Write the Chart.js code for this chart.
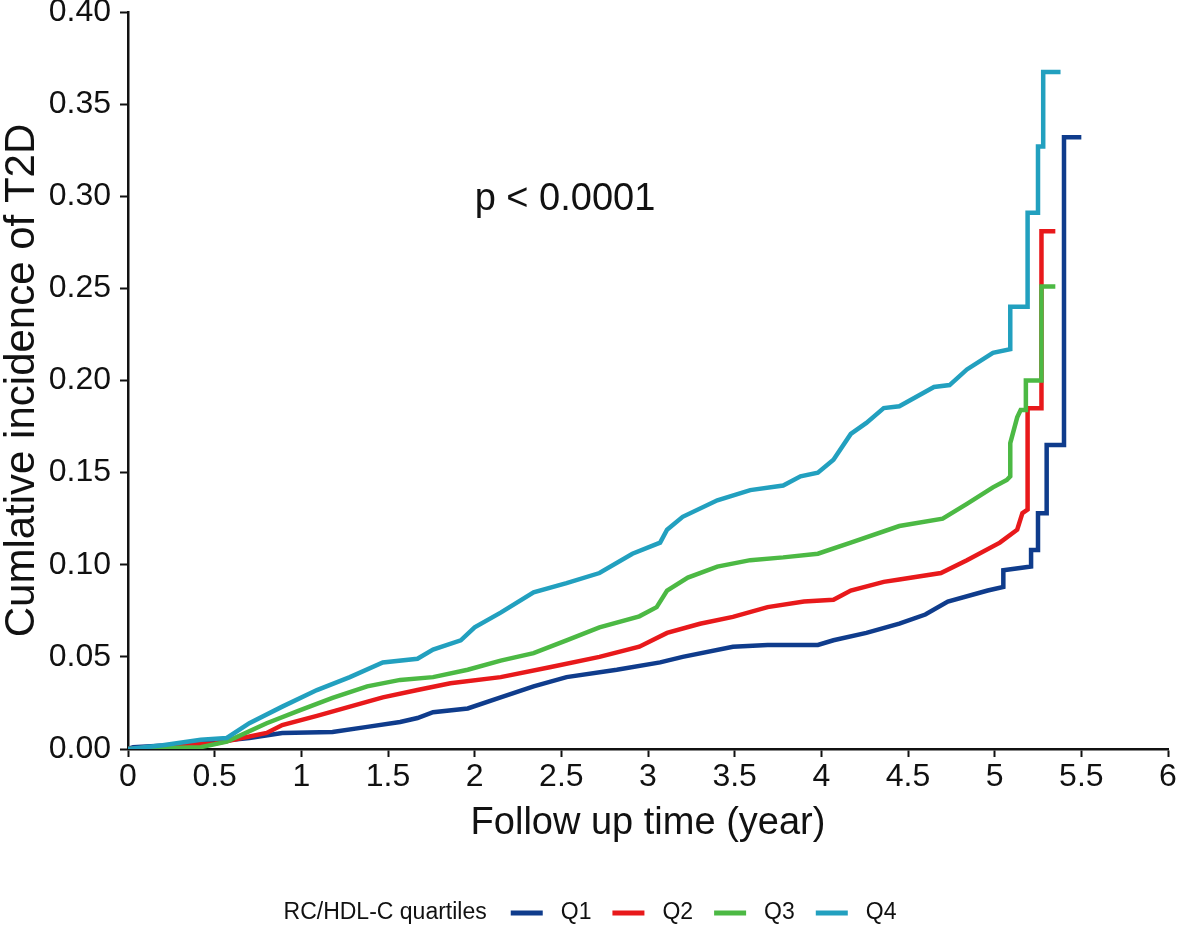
<!DOCTYPE html>
<html>
<head>
<meta charset="utf-8">
<script src="https://cdn.jsdelivr.net/npm/chart.js@4"></script>
<style>
  body { margin: 0; background: #fff; }
  #wrap { width: 1181px; height: 941px; }
</style>
</head>
<body>
<div id="wrap"><canvas id="km"></canvas></div>
<script>
// follow up time (year) and cumulative incidence
const q1Time = [0, 0.03, 0.42, 0.60, 0.70, 0.89, 1.18, 1.38, 1.57, 1.67, 1.76, 1.96, 2.15, 2.34, 2.53, 2.82, 3.07, 3.20, 3.49, 3.69, 3.98, 4.07, 4.26, 4.45, 4.60, 4.73, 4.96, 5.05, 5.05, 5.21, 5.21, 5.25, 5.25, 5.30, 5.30, 5.40, 5.40, 5.50];
const q1Inc  = [0, 0.001, 0.003, 0.005, 0.006, 0.0087, 0.0092, 0.012, 0.0147, 0.0168, 0.020, 0.022, 0.028, 0.034, 0.039, 0.043, 0.047, 0.050, 0.0555, 0.0565, 0.0565, 0.059, 0.063, 0.068, 0.073, 0.080, 0.086, 0.088, 0.097, 0.099, 0.108, 0.108, 0.128, 0.128, 0.165, 0.165, 0.332, 0.332];

const q2Time = [0, 0.30, 0.50, 0.61, 0.80, 0.89, 1.09, 1.28, 1.47, 1.67, 1.86, 2.15, 2.44, 2.72, 2.95, 3.11, 3.30, 3.49, 3.69, 3.90, 4.07, 4.17, 4.36, 4.45, 4.69, 4.84, 5.03, 5.13, 5.16, 5.19, 5.19, 5.27, 5.27, 5.35];
const q2Inc  = [0, 0.002, 0.003, 0.005, 0.0087, 0.013, 0.018, 0.023, 0.028, 0.032, 0.0357, 0.039, 0.0445, 0.050, 0.0555, 0.063, 0.068, 0.0717, 0.077, 0.080, 0.081, 0.086, 0.0907, 0.092, 0.0955, 0.1025, 0.112, 0.119, 0.128, 0.130, 0.185, 0.185, 0.281, 0.281];

const q3Time = [0, 0.42, 0.57, 0.80, 0.99, 1.18, 1.38, 1.57, 1.76, 1.96, 2.15, 2.34, 2.53, 2.72, 2.95, 3.05, 3.11, 3.23, 3.40, 3.59, 3.78, 3.98, 4.17, 4.45, 4.70, 4.84, 4.99, 5.07, 5.09, 5.09, 5.13, 5.15, 5.18, 5.18, 5.27, 5.27, 5.35];
const q3Inc  = [0, 0.001, 0.004, 0.014, 0.021, 0.0277, 0.034, 0.0375, 0.039, 0.043, 0.048, 0.052, 0.059, 0.066, 0.072, 0.077, 0.086, 0.093, 0.099, 0.1025, 0.104, 0.106, 0.112, 0.121, 0.125, 0.133, 0.142, 0.146, 0.148, 0.166, 0.180, 0.184, 0.184, 0.200, 0.200, 0.251, 0.251];

const q4Time = [0, 0.20, 0.42, 0.57, 0.70, 0.89, 1.09, 1.28, 1.47, 1.67, 1.76, 1.92, 2.00, 2.15, 2.34, 2.53, 2.72, 2.91, 3.07, 3.11, 3.20, 3.40, 3.59, 3.78, 3.88, 3.98, 4.07, 4.17, 4.26, 4.36, 4.45, 4.65, 4.74, 4.84, 4.99, 5.09, 5.09, 5.19, 5.19, 5.25, 5.25, 5.28, 5.28, 5.38];
const q4Inc  = [0, 0.002, 0.005, 0.006, 0.014, 0.023, 0.032, 0.039, 0.047, 0.049, 0.054, 0.059, 0.066, 0.074, 0.085, 0.090, 0.0955, 0.106, 0.112, 0.119, 0.126, 0.135, 0.1405, 0.143, 0.148, 0.150, 0.157, 0.171, 0.177, 0.185, 0.186, 0.1965, 0.1975, 0.206, 0.215, 0.217, 0.240, 0.240, 0.291, 0.291, 0.327, 0.327, 0.3675, 0.3675];

const groupNames = ["Q1", "Q2", "Q3", "Q4"];
const groupColors = ["#0f3c8c", "#e8191b", "#4cb944", "#22a0bf"];
const xTicks = [0, 0.5, 1, 1.5, 2, 2.5, 3, 3.5, 4, 4.5, 5, 5.5, 6];
const yTicks = [0, 0.05, 0.1, 0.15, 0.2, 0.25, 0.3, 0.35, 0.4];
const legendTitle = "RC/HDL-C quartiles";
const pText = "p < 0.0001";

const FONT = "'Liberation Sans', Arial, sans-serif";
const INK = "#111";

function pts(t, v) {
    return t.map((x, i) => ({ x: x, y: v[i] }));
}
const series = [pts(q1Time, q1Inc), pts(q2Time, q2Inc), pts(q3Time, q3Inc), pts(q4Time, q4Inc)];

// legend laid out on one row, title on the left
const legendRow = {
    id: "legendRow",
    afterDraw(chart) {
        const ctx = chart.ctx;
        const y = 913;
        ctx.save();
        ctx.font = "23px " + FONT;
        ctx.textBaseline = "middle";
        ctx.fillStyle = INK;
        let total = ctx.measureText(legendTitle).width;
        groupNames.forEach(n => { total += 24 + 32 + 18 + ctx.measureText(n).width; });
        let x = chart.width / 2 - total / 2 + 4;
        ctx.fillText(legendTitle, x, y);
        x += ctx.measureText(legendTitle).width;
        groupNames.forEach((n, i) => {
            x += 24;
            ctx.strokeStyle = groupColors[i];
            ctx.lineWidth = 5;
            ctx.beginPath();
            ctx.moveTo(x, y);
            ctx.lineTo(x + 32, y);
            ctx.stroke();
            x += 32 + 18;
            ctx.fillStyle = INK;
            ctx.fillText(n, x, y);
            x += ctx.measureText(n).width - 3;
        });
        ctx.restore();
    }
};

const pLabel = {
    id: "pLabel",
    afterDatasetsDraw(chart) {
        const ctx = chart.ctx;
        const xs = chart.scales.x, ys = chart.scales.y;
        ctx.save();
        ctx.font = "38px " + FONT;
        ctx.fillStyle = INK;
        ctx.textBaseline = "middle";
        ctx.fillText(pText, xs.getPixelForValue(2.0), ys.getPixelForValue(0.298));
        ctx.restore();
    }
};

new Chart(document.getElementById("km"), {
    type: "line",
    data: {
        datasets: series.map((d, i) => ({
            label: groupNames[i],
            data: d,
            borderColor: groupColors[i],
            backgroundColor: groupColors[i],
            borderWidth: 4.5,
            pointRadius: 0,
            tension: 0,
            borderJoinStyle: "miter",
            order: 4 - i
        }))
    },
    options: {
        responsive: true,
        maintainAspectRatio: false,
        animation: false,
        devicePixelRatio: 1,
        layout: { padding: { top: 12, right: 13, bottom: 92, left: 0 } },
        plugins: {
            legend: { display: false },
            tooltip: { enabled: false }
        },
        scales: {
            x: {
                type: "linear",
                min: 0,
                max: 6,
                afterBuildTicks: s => { s.ticks = xTicks.map(v => ({ value: v })); },
                afterFit: s => { s.height = 100; s.paddingLeft = 0; },
                ticks: {
                    color: INK,
                    font: { family: FONT, size: 32 },
                    padding: 1,
                    maxRotation: 0,
                    callback: v => String(v)
                },
                grid: { drawOnChartArea: false, tickLength: 8, tickWidth: 2, tickColor: INK },
                border: { color: INK, width: 2.5 },
                title: {
                    display: true,
                    text: "Follow up time (year)",
                    color: INK,
                    font: { family: FONT, size: 38 },
                    padding: { top: 4, bottom: 3 }
                }
            },
            y: {
                min: 0,
                max: 0.4,
                afterBuildTicks: s => { s.ticks = yTicks.map(v => ({ value: v })); },
                afterFit: s => { s.width = 128; s.paddingTop = 0; s.paddingBottom = 0; },
                ticks: {
                    color: INK,
                    font: { family: FONT, size: 32 },
                    padding: 9,
                    callback: v => v.toFixed(2)
                },
                grid: { drawOnChartArea: false, tickLength: 8, tickWidth: 2, tickColor: INK },
                border: { color: INK, width: 2.5 },
                title: {
                    display: true,
                    text: "Cumlative incidence of T2D",
                    color: INK,
                    font: { family: FONT, size: 42, lineHeight: 1 },
                    padding: { top: 1, bottom: 0 }
                }
            }
        }
    },
    plugins: [legendRow, pLabel]
});
</script>
</body>
</html>
